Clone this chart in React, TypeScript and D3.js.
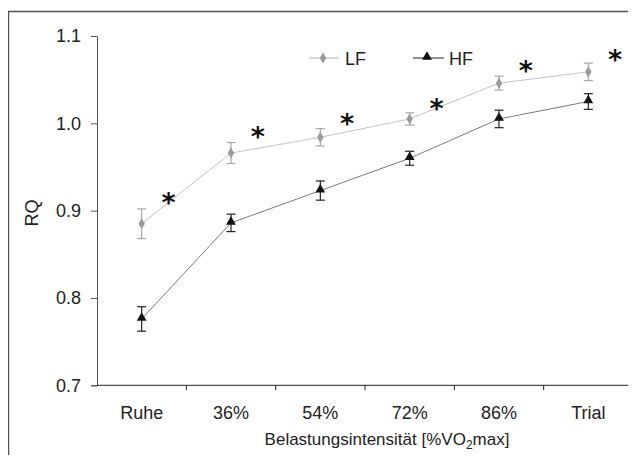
import React, { useEffect, useRef } from "react";
import * as d3 from "d3";

const categories = ["Ruhe", "36%", "54%", "72%", "86%", "Trial"];
const lfMean = [0.885, 0.966, 0.984, 1.005, 1.046, 1.059];
const lfErr = [0.017, 0.012, 0.01, 0.007, 0.008, 0.01];
const hfMean = [0.776, 0.886, 0.923, 0.96, 1.005, 1.025];
const hfErr = [0.014, 0.01, 0.011, 0.008, 0.01, 0.009];
const starY = [0.911, 0.987, 1.002, 1.019, 1.062, 1.075];
const yTicks = [0.7, 0.8, 0.9, 1.0, 1.1];

const FONT = "'Liberation Sans', Arial, sans-serif";

const App = () => {
  const ref = useRef<HTMLDivElement>(null);

  useEffect(() => {
    const width = 636;
    const height = 463;

    const x = d3.scaleBand().domain(categories).range([97, 633]).padding(0);
    const y = d3.scaleLinear().domain([0.7, 1.1]).range([385.3, 36]);
    const cx = (i) => x(categories[i]) + x.bandwidth() / 2;

    const svg = d3.create("svg")
      .attr("width", width)
      .attr("height", height)
      .style("display", "block")
      .style("font-family", FONT);

    // outer frame (only top and left visible)
    svg.append("path")
      .attr("d", `M8.5,${height} V11.5 H${width}`)
      .attr("fill", "none")
      .attr("stroke", "#555")
      .attr("stroke-width", 1.5);

    // y axis
    const gy = svg.append("g").attr("transform", "translate(97,0)")
      .call(d3.axisLeft(y).tickValues(yTicks).tickFormat(d3.format(".1f")).tickSize(6).tickPadding(10));
    gy.select(".domain").attr("stroke", "#555");
    gy.selectAll(".tick line").attr("stroke", "#555");
    gy.selectAll(".tick text").attr("font-size", 18).attr("font-family", FONT).attr("fill", "#222");

    // x axis
    const gx = svg.append("g").attr("transform", "translate(0,385.3)")
      .call(d3.axisBottom(x).tickSize(0).tickPadding(21));
    gx.select(".domain").remove();
    gx.selectAll(".tick text").attr("font-size", 18).attr("font-family", FONT).attr("fill", "#222");
    gx.append("line").attr("x1", 97).attr("x2", 633).attr("stroke", "#222");
    gx.selectAll(".sep")
      .data(d3.range(1, categories.length + 1))
      .join("line")
      .attr("x1", (i) => 97 + i * x.bandwidth())
      .attr("x2", (i) => 97 + i * x.bandwidth())
      .attr("y1", 0)
      .attr("y2", 5)
      .attr("stroke", "#222");

    // axis titles
    const xt = svg.append("text")
      .attr("x", 387)
      .attr("y", 445)
      .attr("text-anchor", "middle")
      .attr("font-size", 17)
      .attr("fill", "#222");
    xt.append("tspan").text("Belastungsintensität [%VO");
    xt.append("tspan").attr("font-size", 12).attr("dy", 4).text("2");
    xt.append("tspan").attr("dy", -4).text("max]");

    svg.append("text")
      .attr("transform", "translate(38,213) rotate(-90)")
      .attr("text-anchor", "middle")
      .attr("font-size", 18)
      .attr("fill", "#222")
      .text("RQ");

    const line = d3.line().x((d, i) => cx(i)).y((d) => y(d));

    const drawSeries = (mean, err, lineColor, barColor) => {
      svg.append("path")
        .datum(mean)
        .attr("d", line)
        .attr("fill", "none")
        .attr("stroke", lineColor)
        .attr("stroke-width", 1);
      const g = svg.append("g").attr("stroke", barColor).attr("stroke-width", 1.2);
      mean.forEach((m, i) => {
        const x0 = cx(i);
        g.append("line").attr("x1", x0).attr("x2", x0).attr("y1", y(m - err[i])).attr("y2", y(m + err[i]));
        g.append("line").attr("x1", x0 - 4.5).attr("x2", x0 + 4.5).attr("y1", y(m - err[i])).attr("y2", y(m - err[i]));
        g.append("line").attr("x1", x0 - 4.5).attr("x2", x0 + 4.5).attr("y1", y(m + err[i])).attr("y2", y(m + err[i]));
      });
    };

    drawSeries(lfMean, lfErr, "#c4c4c4", "#a8a8a8");
    drawSeries(hfMean, hfErr, "#7a7a7a", "#222");

    const diamond = d3.symbol().type(d3.symbolDiamond).size(36);
    const triangle = d3.symbol().type(d3.symbolTriangle).size(42);

    svg.append("g").selectAll("path")
      .data(lfMean)
      .join("path")
      .attr("transform", (d, i) => `translate(${cx(i)},${y(d)})`)
      .attr("d", diamond)
      .attr("fill", "#9a9a9a");

    svg.append("g").selectAll("path")
      .data(hfMean)
      .join("path")
      .attr("transform", (d, i) => `translate(${cx(i)},${y(d) - 1})`)
      .attr("d", triangle)
      .attr("fill", "#111");

    // significance stars
    svg.append("g").selectAll("text")
      .data(starY)
      .join("text")
      .attr("x", (d, i) => cx(i) + 0.3 * x.bandwidth())
      .attr("y", (d) => y(d) + 11)
      .attr("text-anchor", "middle")
      .attr("font-size", 27)
      .attr("font-weight", "bold")
      .attr("font-family", "'DejaVu Sans', sans-serif")
      .attr("fill", "#111")
      .text("*");

    // legend
    const legend = svg.append("g");
    legend.append("line").attr("x1", 309).attr("x2", 339).attr("y1", 58).attr("y2", 58).attr("stroke", "#b0b0b0");
    legend.append("path").attr("transform", "translate(323,58)").attr("d", diamond).attr("fill", "#9a9a9a");
    legend.append("text").attr("x", 345).attr("y", 64.5).attr("font-size", 18).attr("fill", "#222").text("LF");
    legend.append("line").attr("x1", 413).attr("x2", 444).attr("y1", 58).attr("y2", 58).attr("stroke", "#222");
    legend.append("path").attr("transform", "translate(427,57)").attr("d", triangle).attr("fill", "#111");
    legend.append("text").attr("x", 449).attr("y", 64.5).attr("font-size", 18).attr("fill", "#222").text("HF");

    ref.current.innerHTML = "";
    ref.current.appendChild(svg.node());
  }, []);

  return <div ref={ref} style={{ margin: -8 }} />;
};

export default App;
